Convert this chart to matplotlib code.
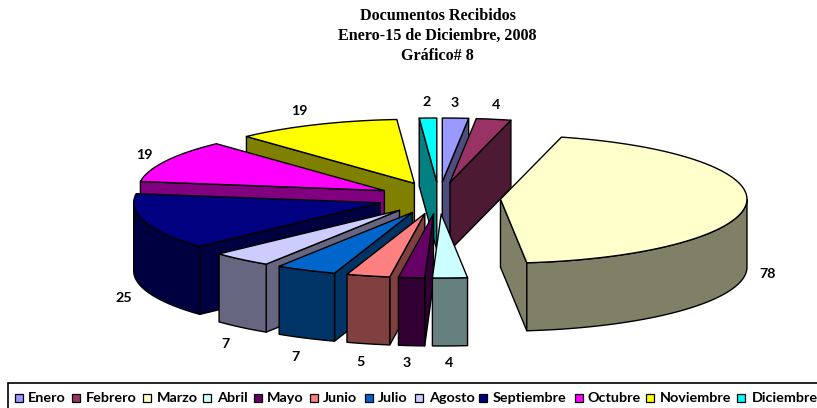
import numpy as np
import matplotlib
matplotlib.use("Agg")
import matplotlib.pyplot as plt
from matplotlib.patches import Polygon, Rectangle
from matplotlib.colors import to_rgb

months = ["Enero", "Febrero", "Marzo", "Abril", "Mayo", "Junio", "Julio",
          "Agosto", "Septiembre", "Octubre", "Noviembre", "Diciembre"]
values = [3, 4, 78, 4, 3, 5, 7, 7, 25, 19, 19, 2]
colors = ["#9999FF", "#993366", "#FFFFCC", "#CCFFFF", "#660066", "#FF8080",
          "#0066CC", "#CCCCFF", "#000080", "#FF00FF", "#FFFF00", "#00FFFF"]
title_lines = ["Documentos Recibidos", "Enero-15 de Diciembre, 2008", "Gráfico# 8"]

# layout (pixels)
CX, CY, RX, RY, DEPTH, EXPLODE = 439.0, 198.0, 246.5, 64.0, 68.0, 0.25
label_xy = [(455, 103), (496, 105), (768, 274), (449, 363), (407, 363), (361, 362),
            (296, 357), (226, 344), (124, 298), (144, 155), (299, 111), (427, 102)]
legend_swatch_x = [15, 72, 143, 203, 254, 310, 365, 415, 479, 575, 646, 737]
legend_text_x = [28, 86, 157, 217, 267, 323, 378, 429, 493, 588, 660, 752]

W, H = 817, 408
fig = plt.figure(figsize=(W / 100, H / 100), dpi=100)
ax = fig.add_axes([0, 0, 1, 1])
ax.set_xlim(0, W)
ax.set_ylim(H, 0)
ax.axis("off")

edges = np.concatenate([[0], np.cumsum(values)]) / sum(values) * 2 * np.pi
LW = 1.0


def pt(th, ox, oy, r=1.0):
    return np.column_stack([ox + r * RX * np.sin(th), oy - r * RY * np.cos(th)])


def shade(c):
    return tuple(v * 0.5 for v in to_rgb(c))


def poly(points, fc, z):
    ax.add_patch(Polygon(points, closed=True, fc=fc, ec="black", lw=LW, joinstyle="round", zorder=z))


order = np.argsort([-np.cos((edges[i] + edges[i + 1]) / 2) for i in range(len(values))])
for rank, i in enumerate(order):
    t0, t1 = edges[i], edges[i + 1]
    mid = (t0 + t1) / 2
    ox = CX + EXPLODE * RX * np.sin(mid)
    oy = CY - EXPLODE * RY * np.cos(mid)
    apex = np.array([[ox, oy]])
    down = np.array([0, DEPTH])
    z = 2 + rank
    side = shade(colors[i])
    # radial walls
    if np.sin(t1) > 0:
        a = pt(np.array([t1]), ox, oy)
        poly(np.vstack([apex, a, a + down, apex + down]), side, z)
    if np.sin(t0) < 0:
        a = pt(np.array([t0]), ox, oy)
        poly(np.vstack([apex, a, a + down, apex + down]), side, z)
    # outer wall, front half only
    lo, hi = max(t0, np.pi / 2), min(t1, 3 * np.pi / 2)
    if hi > lo:
        arc = pt(np.linspace(lo, hi, 80), ox, oy)
        poly(np.vstack([arc, arc[::-1] + down]), side, z)
    # top
    arc = pt(np.linspace(t0, t1, 80), ox, oy)
    poly(np.vstack([apex, arc]), colors[i], z)

for v, (x, y) in zip(values, label_xy):
    ax.text(x, y, str(v), ha="center", va="center", family="Lato", weight="bold",
            fontsize=10.3, color="black", zorder=50)

for k, line in enumerate(title_lines):
    ax.text(437.5, 16 + 20 * k, line, ha="center", va="center", family="Liberation Serif",
            weight="bold", fontsize=11.6, color="black", zorder=50)

ax.add_patch(Rectangle((8.5, 383), W, 40, fc="white", ec="black", lw=1.2, zorder=40))
for name, c, sx, tx in zip(months, colors, legend_swatch_x, legend_text_x):
    ax.add_patch(Rectangle((sx, 393.5), 8, 8, fc=c, ec="black", lw=0.9, zorder=41))
    ax.text(tx, 398, name, ha="left", va="center", family="Lato", weight="bold",
            fontsize=10.4, color="black", zorder=42)

fig.savefig("out.png", dpi=100, facecolor="white")
